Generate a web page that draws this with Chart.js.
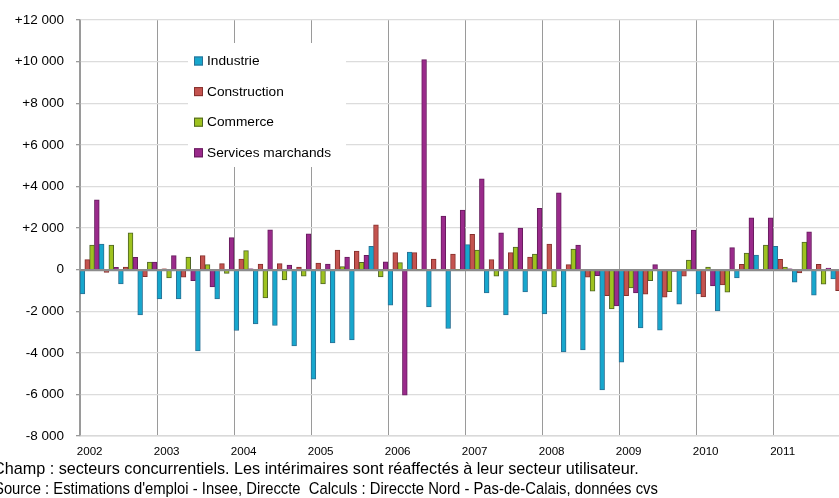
<!DOCTYPE html>
<html>
<head>
<meta charset="utf-8">
<script src="https://cdn.jsdelivr.net/npm/chart.js@4.4.1/dist/chart.umd.min.js"></script>
<style>
  html, body { margin: 0; padding: 0; background: #fff; overflow: hidden; width: 839px; height: 498px; }
  #wrap { position: absolute; left: 0; top: 0; width: 860px; height: 460px; }
  .note { position: absolute; left: -7px; font-family: 'Liberation Sans', Arial, sans-serif;
          font-size: 16.2px; line-height: 19px; color: #000; white-space: pre; }
  .narrow { transform: scaleX(0.915); transform-origin: left center; }
</style>
</head>
<body>
<div id="wrap"><canvas id="emploiChart" width="860" height="460"></canvas></div>
<div class="note" style="top:459px">Champ : secteurs concurrentiels. Les intérimaires sont réaffectés à leur secteur utilisateur.</div>
<div class="note narrow" style="top:479px;left:-6px">Source : Estimations d'emploi - Insee, Direccte  Calculs : Direccte Nord - Pas-de-Calais, données cvs</div>
<script>
// quarters 2002 T1 .. 2011 T4
const years = ['2002','2003','2004','2005','2006','2007','2008','2009','2010','2011'];
const quarterLabels = [];
years.forEach(y => { quarterLabels.push(y, '', '', ''); });

const industrie = [
  -1168, 1232, -688, -2176,
  -1408, -1408, -3904, -1408,
  -2928, -2608, -2688, -3664,
  -5264, -3520, -3376, 1120,
  -1712, 848, -1792, -2832,
  1200, -1120, -2176, -1072,
  -2128, -3952, -3856, -5780,
  -4448, -2800, -2912, -1664,
  -1168, -1984, -400, 704,
  1120, -608, -1232, -448
];
const construction = [
  480, -128, 128, -336,
  40, -368, 672, 288,
  512, 272, 288, 128,
  320, 944, 896, 2160,
  816, 816, 512, 752,
  1696, 480, 816, 608,
  1232, 240, -368, -1248,
  -1248, -1184, -1328, -320,
  -1312, -736, 256, 30,
  496, -160, 256, -1008
];
const commerce = [
  1184, 1184, 1776, 368,
  -400, 608, 240, -176,
  912, -1360, -496, -320,
  -688, 144, 352, -350,
  340, 20, -48, 20,
  944, -320, 1088, 752,
  -832, 992, -1040, -1888,
  -880, -528, -1056, 464,
  128, -1088, 800, 1184,
  128, 1328, -704, -300
];
const services = [
  3360, 112, 592, 368,
  672, -528, -832, 1536,
  40, 1920, 224, 1728,
  272, 608, 688, 380,
  -6040, 10100, 2576, 2864,
  4368, 1776, 2000, 2944,
  3696, 1184, -288, -1744,
  -1120, 240, -80, 1904,
  -784, 1056, 2496, 2496,
  40, 1824, 80, 500
];

const fontName = "'Liberation Sans', Arial, sans-serif";

function fmt(v) {
  let s = Math.abs(v).toString().replace(/\B(?=(\d{3})+(?!\d))/g, ' ');
  if (v > 0) return '+' + s;
  if (v < 0) return '-' + s;
  return '0';
}

// legend box drawn inside the plot, like the original
const insideLegend = {
  id: 'insideLegend',
  afterDraw(chart) {
    const c = chart.ctx;
    c.save();
    c.fillStyle = '#fff';
    c.fillRect(188, 43, 158, 124);
    c.font = '13.7px ' + fontName;
    c.textBaseline = 'middle';
    c.textAlign = 'left';
    chart.data.datasets.forEach((ds, i) => {
      const y = 61 + i * 30.6;
      c.fillStyle = ds.backgroundColor;
      c.fillRect(194, y - 4.5, 9, 9);
      c.strokeStyle = ds.borderColor;
      c.lineWidth = 1;
      c.strokeRect(194.5, y - 4, 8, 8);
      c.fillStyle = '#000';
      c.fillText(ds.label, 207, y + 0.5);
    });
    c.restore();
  }
};

// zero line drawn over the bars
const zeroLine = {
  id: 'zeroLine',
  afterDatasetsDraw(chart) {
    const c = chart.ctx;
    const y = Math.round(chart.scales.y.getPixelForValue(0)) + 0.5;
    c.save();
    c.strokeStyle = '#8c8c8c';
    c.lineWidth = 1.5;
    c.beginPath();
    c.moveTo(chart.chartArea.left, y);
    c.lineTo(chart.chartArea.right, y);
    c.stroke();
    c.restore();
  }
};

function series(label, data, fill, border) {
  return {
    label: label,
    data: data,
    backgroundColor: fill,
    borderColor: border,
    borderWidth: 1,
    categoryPercentage: 1.0,
    barPercentage: 1.0
  };
}

let ctx = document.getElementById('emploiChart').getContext('2d');
let emploiChart = new Chart(ctx, {
  type: 'bar',
  data: {
    labels: quarterLabels,
    datasets: [
      series('Industrie', industrie, '#17a7cd', '#2c6f93'),
      series('Construction', construction, '#c4534f', '#86302d'),
      series('Commerce', commerce, '#9ec21f', '#4f6526'),
      series('Services marchands', services, '#9a2a8b', '#661c5d')
    ]
  },
  options: {
    responsive: false,
    animation: false,
    devicePixelRatio: 1,
    layout: { padding: { top: 19, right: 10, bottom: 0, left: 0 } },
    plugins: {
      legend: { display: false },
      tooltip: { enabled: false }
    },
    scales: {
      x: {
        grid: {
          offset: true,
          drawTicks: false,
          color: (c) => (c.index % 4 === 0 ? '#9a9a9a' : 'rgba(0,0,0,0)'),
          lineWidth: 1
        },
        border: { color: '#d9d9d9', width: 1.5 },
        ticks: {
          autoSkip: false,
          maxRotation: 0,
          minRotation: 0,
          padding: 9,
          color: '#000',
          font: { family: fontName, size: 11.6 }
        },
        afterFit(scale) { scale.height = 24; }
      },
      y: {
        min: -8000,
        max: 12000,
        grid: {
          color: (c) => (c.tick && c.tick.value === 0 ? '#8c8c8c' : '#dcdcdc'),
          lineWidth: 1.3,
          tickLength: 4,
          tickColor: '#9a9a9a'
        },
        border: { color: '#9a9a9a', width: 1.5 },
        ticks: {
          stepSize: 2000,
          padding: 12,
          color: '#000',
          font: { family: fontName, size: 13.5 },
          callback: (v) => fmt(v)
        },
        afterFit(scale) { scale.width = 80; }
      }
    }
  },
  plugins: [zeroLine, insideLegend]
});
</script>
</body>
</html>
